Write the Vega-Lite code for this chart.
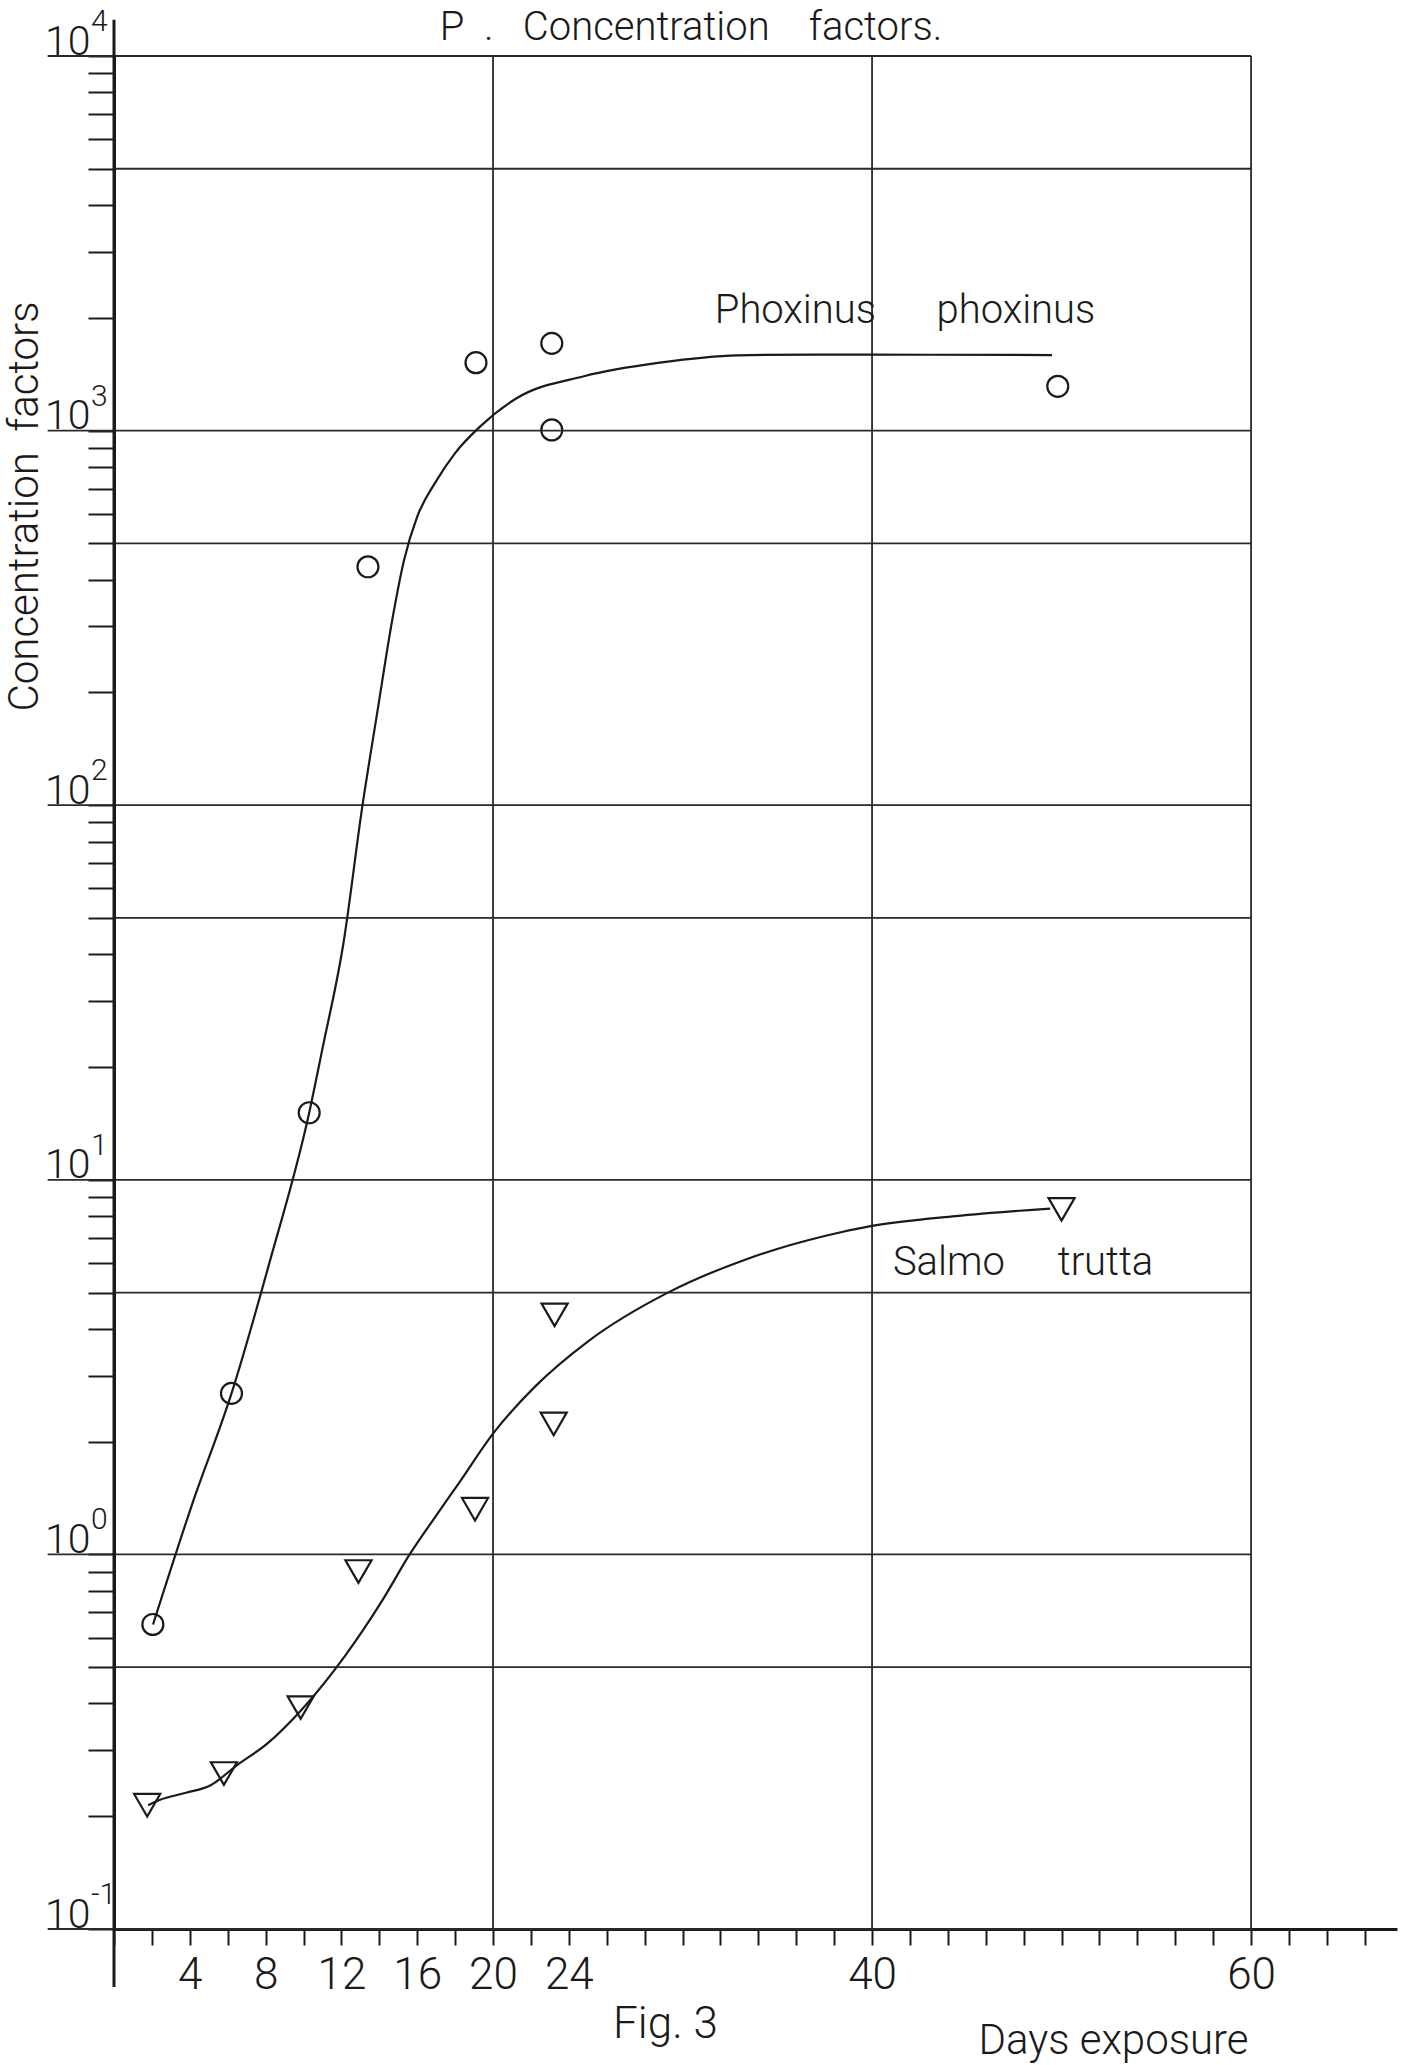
{
  "$schema": "https://vega.github.io/schema/vega-lite/v6.json",
  "width": 1283,
  "height": 1873,
  "autosize": {"type": "none"},
  "padding": {"left": 114, "top": 56, "right": 12, "bottom": 136},
  "background": "white",
  "config": {"view": {"stroke": null}, "font": "Roboto"},
  "datasets": {
    "points": [
      {"species": "Phoxinus phoxinus", "day": 2.05, "value": 0.65},
      {"species": "Phoxinus phoxinus", "day": 6.2, "value": 2.69},
      {"species": "Phoxinus phoxinus", "day": 10.3, "value": 15.1},
      {"species": "Phoxinus phoxinus", "day": 13.4, "value": 433},
      {"species": "Phoxinus phoxinus", "day": 19.1, "value": 1518},
      {"species": "Phoxinus phoxinus", "day": 23.1, "value": 1710},
      {"species": "Phoxinus phoxinus", "day": 23.1, "value": 1004},
      {"species": "Phoxinus phoxinus", "day": 49.8, "value": 1313},
      {"species": "Salmo trutta", "day": 1.75, "value": 0.214},
      {"species": "Salmo trutta", "day": 5.8, "value": 0.26},
      {"species": "Salmo trutta", "day": 9.85, "value": 0.39},
      {"species": "Salmo trutta", "day": 12.9, "value": 0.9},
      {"species": "Salmo trutta", "day": 19.05, "value": 1.32},
      {"species": "Salmo trutta", "day": 23.25, "value": 4.36},
      {"species": "Salmo trutta", "day": 23.2, "value": 2.23},
      {"species": "Salmo trutta", "day": 50.0, "value": 8.34}
    ],
    "curves": [
      {"species": "Phoxinus phoxinus", "day": 2.06, "value": 0.65},
      {"species": "Phoxinus phoxinus", "day": 4.1, "value": 1.35},
      {"species": "Phoxinus phoxinus", "day": 6.2, "value": 2.69},
      {"species": "Phoxinus phoxinus", "day": 8.2, "value": 6.0},
      {"species": "Phoxinus phoxinus", "day": 10.3, "value": 15.1},
      {"species": "Phoxinus phoxinus", "day": 11.0, "value": 22.4},
      {"species": "Phoxinus phoxinus", "day": 12.1, "value": 42.6},
      {"species": "Phoxinus phoxinus", "day": 13.1, "value": 99},
      {"species": "Phoxinus phoxinus", "day": 13.9, "value": 178},
      {"species": "Phoxinus phoxinus", "day": 14.7, "value": 316},
      {"species": "Phoxinus phoxinus", "day": 15.3, "value": 450},
      {"species": "Phoxinus phoxinus", "day": 16.0, "value": 589},
      {"species": "Phoxinus phoxinus", "day": 17.0, "value": 733},
      {"species": "Phoxinus phoxinus", "day": 18.0, "value": 871},
      {"species": "Phoxinus phoxinus", "day": 19.3, "value": 1023},
      {"species": "Phoxinus phoxinus", "day": 21.2, "value": 1216},
      {"species": "Phoxinus phoxinus", "day": 24.8, "value": 1397},
      {"species": "Phoxinus phoxinus", "day": 28.8, "value": 1518},
      {"species": "Phoxinus phoxinus", "day": 32.9, "value": 1588},
      {"species": "Phoxinus phoxinus", "day": 37.0, "value": 1596},
      {"species": "Phoxinus phoxinus", "day": 43.0, "value": 1594},
      {"species": "Phoxinus phoxinus", "day": 49.5, "value": 1591},
      {"species": "Salmo trutta", "day": 1.8, "value": 0.214},
      {"species": "Salmo trutta", "day": 2.4, "value": 0.221},
      {"species": "Salmo trutta", "day": 3.8, "value": 0.231},
      {"species": "Salmo trutta", "day": 5.1, "value": 0.242},
      {"species": "Salmo trutta", "day": 6.5, "value": 0.274},
      {"species": "Salmo trutta", "day": 8.1, "value": 0.313},
      {"species": "Salmo trutta", "day": 9.9, "value": 0.385},
      {"species": "Salmo trutta", "day": 12.2, "value": 0.537},
      {"species": "Salmo trutta", "day": 14.2, "value": 0.76},
      {"species": "Salmo trutta", "day": 15.6, "value": 1.0},
      {"species": "Salmo trutta", "day": 17.0, "value": 1.27},
      {"species": "Salmo trutta", "day": 18.2, "value": 1.55},
      {"species": "Salmo trutta", "day": 20.0, "value": 2.1},
      {"species": "Salmo trutta", "day": 22.2, "value": 2.8},
      {"species": "Salmo trutta", "day": 25.0, "value": 3.7},
      {"species": "Salmo trutta", "day": 29.2, "value": 4.99},
      {"species": "Salmo trutta", "day": 33.3, "value": 6.12},
      {"species": "Salmo trutta", "day": 37.5, "value": 7.08},
      {"species": "Salmo trutta", "day": 40.0, "value": 7.53},
      {"species": "Salmo trutta", "day": 44.4, "value": 8.0},
      {"species": "Salmo trutta", "day": 49.4, "value": 8.38}
    ],
    "major": [
      {"v": 10000, "e": "4"},
      {"v": 1000, "e": "3"},
      {"v": 100, "e": "2"},
      {"v": 10, "e": "1"},
      {"v": 1, "e": "0"},
      {"v": 0.1, "e": "-1"}
    ],
    "mid": [{"v": 5000}, {"v": 500}, {"v": 50}, {"v": 5}, {"v": 0.5}],
    "vgrid": [{"d": 20}, {"d": 40}, {"d": 60}],
    "labels": [
      {"day": 31.7, "value": 1936, "text": "Phoxinus"},
      {"day": 43.4, "value": 1936, "text": "phoxinus"},
      {"day": 41.1, "value": 5.57, "text": "Salmo"},
      {"day": 49.8, "value": 5.57, "text": "trutta"}
    ]
  },
  "layer": [
    {
      "data": {"name": "points"},
      "mark": {"type": "point", "filled": false, "color": "#1a1a1a", "strokeWidth": 2.2, "opacity": 1},
      "encoding": {
        "x": {
          "field": "day",
          "type": "quantitative",
          "scale": {"domain": [0, 67.7], "nice": false, "zero": false},
          "axis": {
            "values": [0, 2, 4, 6, 8, 10, 12, 14, 16, 18, 20, 22, 24, 26, 28, 30, 32, 34, 36, 38, 40, 42, 44, 46, 48, 50, 52, 54, 56, 58, 60, 62, 64, 66],
            "tickCount": 200,
            "labelExpr": "indexof([4,8,12,16,20,24,40,60], datum.value) >= 0 ? '' + datum.value : ''",
            "grid": false,
            "domainColor": "#1a1a1a",
            "domainWidth": 3,
            "tickColor": "#1a1a1a",
            "tickWidth": 2,
            "tickSize": 16,
            "labelPadding": 8,
            "labelFont": "Roboto",
            "labelFontWeight": 300,
            "labelFontSize": 44,
            "labelColor": "#1a1a1a",
            "labelBaseline": "top",
            "labelFlush": false,
            "labelOverlap": false,
            "title": "Days exposure",
            "titleX": 999,
            "titleY": 124,
            "titleAlign": "center",
            "titleBaseline": "alphabetic",
            "titleFont": "Roboto",
            "titleFontWeight": 300,
            "titleFontSize": 42,
            "titleColor": "#1a1a1a"
          }
        },
        "y": {
          "field": "value",
          "type": "quantitative",
          "scale": {"type": "log", "domain": [0.1, 10000], "nice": false},
          "axis": {
            "values": [0.1, 0.2, 0.3, 0.4, 0.5, 0.6, 0.7, 0.8, 0.9, 1, 2, 3, 4, 5, 6, 7, 8, 9, 10, 20, 30, 40, 50, 60, 70, 80, 90, 100, 200, 300, 400, 500, 600, 700, 800, 900, 1000, 2000, 3000, 4000, 5000, 6000, 7000, 8000, 9000, 10000],
            "tickCount": 200,
            "labelExpr": "abs(log(datum.value)/LN10 - round(log(datum.value)/LN10)) < 0.01 ? '10' : ''",
            "grid": false,
            "domainColor": "#1a1a1a",
            "domainWidth": 3,
            "tickColor": "#1a1a1a",
            "tickWidth": 2,
            "tickSize": 26,
            "labelPadding": -2,
            "labelAlign": "right",
            "labelBaseline": "alphabetic",
            "labelOffset": -2,
            "labelFont": "Roboto",
            "labelFontWeight": 300,
            "labelFontSize": 41,
            "labelColor": "#1a1a1a",
            "labelFlush": false,
            "labelOverlap": false,
            "title": "Concentration\u00a0\u00a0factors",
            "titleX": -77,
            "titleY": 450,
            "titleAngle": -90,
            "titleAlign": "center",
            "titleBaseline": "alphabetic",
            "titleFont": "Roboto",
            "titleFontWeight": 300,
            "titleFontSize": 42,
            "titleColor": "#1a1a1a"
          }
        },
        "shape": {
          "field": "species",
          "type": "nominal",
          "scale": {"domain": ["Phoxinus phoxinus", "Salmo trutta"], "range": ["circle", "triangle-down"]},
          "legend": null
        },
        "size": {
          "field": "species",
          "type": "nominal",
          "scale": {"domain": ["Phoxinus phoxinus", "Salmo trutta"], "range": [440, 680]},
          "legend": null
        }
      }
    },
    {
      "data": {"name": "major"},
      "mark": {"type": "rule", "color": "#2a2a2a", "strokeWidth": 1.8},
      "encoding": {
        "y": {"field": "v", "type": "quantitative"},
        "x": {"datum": -3.5, "type": "quantitative"},
        "x2": {"datum": 60}
      }
    },
    {
      "data": {"name": "mid"},
      "mark": {"type": "rule", "color": "#2a2a2a", "strokeWidth": 1.8},
      "encoding": {
        "y": {"field": "v", "type": "quantitative"},
        "x": {"datum": 0, "type": "quantitative"},
        "x2": {"datum": 60}
      }
    },
    {
      "data": {"name": "vgrid"},
      "mark": {"type": "rule", "color": "#2a2a2a", "strokeWidth": 1.8},
      "encoding": {
        "x": {"field": "d", "type": "quantitative"},
        "y": {"datum": 0.1, "type": "quantitative"},
        "y2": {"datum": 10000}
      }
    },
    {
      "data": {"values": [{}]},
      "mark": {"type": "rule", "color": "#1a1a1a", "strokeWidth": 3},
      "encoding": {
        "x": {"datum": 0, "type": "quantitative"},
        "y": {"datum": 0.07, "type": "quantitative"},
        "y2": {"datum": 12500}
      }
    },
    {
      "data": {"name": "major"},
      "mark": {"type": "text", "align": "left", "baseline": "alphabetic", "dx": -23, "dy": -25, "fontSize": 30, "font": "Roboto", "fontWeight": 300, "color": "#1a1a1a"},
      "encoding": {
        "y": {"field": "v", "type": "quantitative"},
        "x": {"datum": 0, "type": "quantitative"},
        "text": {"field": "e"}
      }
    },
    {
      "data": {"name": "curves"},
      "mark": {"type": "line", "interpolate": "monotone", "color": "#1a1a1a", "strokeWidth": 2.2},
      "encoding": {
        "x": {"field": "day", "type": "quantitative"},
        "y": {"field": "value", "type": "quantitative"},
        "detail": {"field": "species"}
      }
    },
    {
      "data": {"name": "labels"},
      "mark": {"type": "text", "align": "left", "baseline": "alphabetic", "fontSize": 40, "font": "Roboto", "fontWeight": 300, "color": "#1a1a1a"},
      "encoding": {
        "x": {"field": "day", "type": "quantitative"},
        "y": {"field": "value", "type": "quantitative"},
        "text": {"field": "text"}
      }
    },
    {
      "data": {"values": [{"text": "P\u00a0\u00a0.\u00a0\u00a0\u00a0Concentration\u00a0\u00a0\u00a0\u00a0factors."}]},
      "mark": {"type": "text", "align": "center", "baseline": "alphabetic", "dy": -16, "fontSize": 40, "font": "Roboto", "fontWeight": 300, "color": "#1a1a1a"},
      "encoding": {
        "x": {"datum": 30.45, "type": "quantitative"},
        "y": {"datum": 10000, "type": "quantitative"},
        "text": {"field": "text"}
      }
    },
    {
      "data": {"values": [{"text": "Fig. 3"}]},
      "mark": {"type": "text", "align": "center", "baseline": "alphabetic", "dy": 109, "fontSize": 44, "font": "Roboto", "fontWeight": 300, "color": "#1a1a1a"},
      "encoding": {
        "x": {"datum": 29.1, "type": "quantitative"},
        "y": {"datum": 0.1, "type": "quantitative"},
        "text": {"field": "text"}
      }
    }
  ]
}
